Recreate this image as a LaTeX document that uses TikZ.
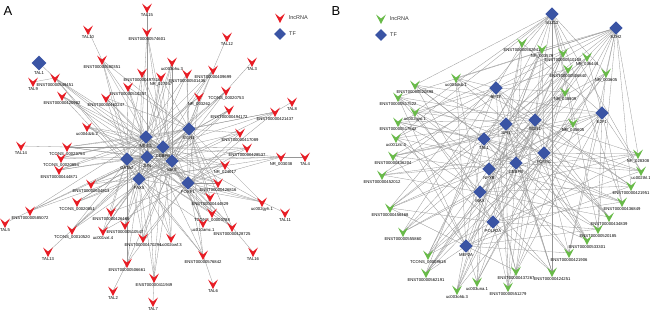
\documentclass[tikz,border=0pt]{standalone}
\usepackage{fontspec}
\setmainfont{Liberation Sans}
\usetikzlibrary{shapes.geometric,backgrounds}
\definecolor{lncred}{RGB}{232,28,36}
\definecolor{lncgreen}{RGB}{104,186,72}
\definecolor{tfblue}{RGB}{58,84,164}
\definecolor{edgegray}{RGB}{150,150,150}
\begin{document}
\begin{tikzpicture}[x=1pt,y=-1pt,line join=round,line cap=round,font=\fontsize{4.2}{4.5}\selectfont,
	lab/.style={inner sep=0.3pt,font=\fontsize{4.2}{4.5}\selectfont},
	leg/.style={anchor=west,inner sep=0pt,font=\fontsize{5.5}{6}\selectfont,text=black!80},
	lnc/.style={minimum size=10pt,inner sep=0pt,path picture={\fill[#1]
		([shift={(-5pt,4.5pt)}]path picture bounding box.center) -- ([shift={(0pt,0.5pt)}]path picture bounding box.center)
		-- ([shift={(5pt,4.5pt)}]path picture bounding box.center) -- ([shift={(0pt,-5pt)}]path picture bounding box.center) -- cycle;}},
	lncA/.style={lnc=lncred},
	lncB/.style={lnc=lncgreen},
	tf/.style={diamond,fill=tfblue,minimum size=13.5pt,inner sep=0pt},
	edge/.style={draw=edgegray,line width=0.3pt}]
	\useasboundingbox (0,0) rectangle (650,317);
	\node[anchor=west,font=\fontsize{13}{13}\selectfont] (pA) at (0,11) {A};
	\node[anchor=west,font=\fontsize{13}{13}\selectfont] (pB) at (328,11) {B};
	% legends
	\node[lncA] (legA1) at (280,18) {};
	\node[leg] (legA1t) at (289,18) {lncRNA};
	\node[tf,minimum size=12pt] (legA2) at (280,34) {};
	\node[leg] (legA2t) at (289,34) {TF};
	\node[lncB] (legB1) at (381,19) {};
	\node[leg] (legB1t) at (390,19) {lncRNA};
	\node[tf,minimum size=12pt] (legB2) at (381,35) {};
	\node[leg] (legB2t) at (390,35) {TF};
	% A: transcription factors
	\node[tf,label={[lab]below:MEIS1}] (ta1) at (146,137) {};
	\node[tf,label={[lab]below:CEBPB}] (ta2) at (163,147) {};
	\node[tf,label={[lab]below:GATA2}] (ta3) at (127,159) {};
	\node[tf,label={[lab]below:JUN}] (ta4) at (147,157) {};
	\node[tf,label={[lab]below:PAX5}] (ta5) at (139,179) {};
	\node[tf,label={[lab]below:EGR1}] (ta6) at (189,129) {};
	\node[tf,label={[lab]below:MAX}] (ta7) at (172,161) {};
	\node[tf,label={[lab]below:FOXP1}] (ta8) at (188,183) {};
	\node[tf,minimum size=15pt,label={[lab]below:TAL1}] (tal1) at (39,63) {};
	% A: lncRNAs
	\node[lncA,label={[lab]below:ENST00000574601}] (a1) at (147,32) {};
	\node[lncA,label={[lab]below:ENST00000580351}] (a2) at (102,60) {};
	\node[lncA,label={[lab]below:uc003ohu.3}] (a3) at (172,62) {};
	\node[lncA,label={[lab]below:ENST00000501436}] (a4) at (187,74) {};
	\node[lncA,label={[lab]below:ENST00000409699}] (a5) at (213,70) {};
	\node[lncA,label={[lab]below:ENST00000497316}] (a6) at (142,73) {};
	\node[lncA,label={[lab]below:NR\_027057}] (a7) at (161,77) {};
	\node[lncA,label={[lab]below:ENST00000549451}] (a8) at (55,78) {};
	\node[lncA,label={[lab]below:ENST00000510257}] (a9) at (128,87) {};
	\node[lncA,label={[lab]below:ENST00000420982}] (a10) at (62,96) {};
	\node[lncA,label={[lab]below:ENST00000462247}] (a11) at (106,98) {};
	\node[lncA,label={[lab]below:TCONS\_00020753}] (a12) at (226,91) {};
	\node[lncA,label={[lab]below:NR\_003262}] (a13) at (199,97) {};
	\node[lncA,label={[lab]below:ENST00000494172}] (a14) at (229,110) {};
	\node[lncA,label={[lab]below:ENST00000421437}] (a15) at (275,112) {};
	\node[lncA,label={[lab]below:uc004dzb.2}] (a16) at (87,127) {};
	\node[lncA,label={[lab]below:ENST00000417089}] (a17) at (240,133) {};
	\node[lncA,label={[lab]below:TCONS\_00029754}] (a18) at (67,147) {};
	\node[lncA,label={[lab]below:ENST00000428537}] (a19) at (247,148) {};
	\node[lncA,label={[lab]below:TCONS\_00020854}] (a20) at (61,158) {};
	\node[lncA,label={[lab]below:NR\_003038}] (a21) at (281,157) {};
	\node[lncA,label={[lab]below:ENST00000444871}] (a22) at (59,170) {};
	\node[lncA,label={[lab]below:NR\_024017}] (a23) at (225,165) {};
	\node[lncA,label={[lab]below:ENST00000426816}] (a24) at (218,183) {};
	\node[lncA,label={[lab]below:ENST00000504913}] (a25) at (91,184) {};
	\node[lncA,label={[lab]below:ENST00000444829}] (a26) at (210,197) {};
	\node[lncA,label={[lab]below:TCONS\_00020851}] (a27) at (77,202) {};
	\node[lncA,label={[lab]below:uc002gyh.1}] (a28) at (262,202) {};
	\node[lncA,label={[lab]below:ENST00000585072}] (a29) at (30,211) {};
	\node[lncA,label={[lab]below:ENST00000426469}] (a30) at (111,212) {};
	\node[lncA,label={[lab]below:TCONS\_00010520}] (a31) at (72,230) {};
	\node[lncA,label={[lab]below:uc001vxt.4}] (a32) at (103,231) {};
	\node[lncA,label={[lab]below:ENST00000510547}] (a33) at (125,225) {};
	\node[lncA,label={[lab]below:ENST00000470294}] (a34) at (143,238) {};
	\node[lncA,label={[lab]below:TCONS\_00003788}] (a35) at (212,213) {};
	\node[lncA,label={[lab]below:uc010amc.1}] (a36) at (203,223) {};
	\node[lncA,label={[lab]below:ENST00000428725}] (a37) at (232,227) {};
	\node[lncA,label={[lab]below:uc002owf.3}] (a38) at (171,238) {};
	\node[lncA,label={[lab]below:ENST00000506661}] (a39) at (127,263) {};
	\node[lncA,label={[lab]below:ENST00000411949}] (a40) at (154,278) {};
	\node[lncA,label={[lab]below:ENST00000576842}] (a41) at (203,255) {};
	% A: TAL nodes
	\node[lncA,label={[lab]below:TAL15}] (tal15) at (147,8) {};
	\node[lncA,label={[lab]below:TAL10}] (tal10) at (88,30) {};
	\node[lncA,label={[lab]below:TAL12}] (tal12) at (227,37) {};
	\node[lncA,label={[lab]below:TAL3}] (tal3) at (252,62) {};
	\node[lncA,label={[lab]below:TAL9}] (tal9) at (33,82) {};
	\node[lncA,label={[lab]below:TAL8}] (tal8) at (292,102) {};
	\node[lncA,label={[lab]below:TAL14}] (tal14) at (21,146) {};
	\node[lncA,label={[lab]below:TAL4}] (tal4) at (305,157) {};
	\node[lncA,label={[lab]below:TAL11}] (tal11) at (285,213) {};
	\node[lncA,label={[lab]below:TAL5}] (tal5) at (5,223) {};
	\node[lncA,label={[lab]below:TAL13}] (tal13) at (48,252) {};
	\node[lncA,label={[lab]below:TAL16}] (tal16) at (253,252) {};
	\node[lncA,label={[lab]below:TAL2}] (tal2) at (113,291) {};
	\node[lncA,label={[lab]below:TAL7}] (tal7) at (153,302) {};
	\node[lncA,label={[lab]below:TAL6}] (tal6) at (213,284) {};
	% B: transcription factors
	\node[tf,label={[lab]below:SUZ12}] (tb1) at (552,14) {};
	\node[tf,label={[lab]below:EZH2}] (tb2) at (616,28) {};
	\node[tf,label={[lab]below:BPTF}] (tb3) at (496,88) {};
	\node[tf,label={[lab]below:E2F1}] (tb4) at (602,113) {};
	\node[tf,label={[lab]below:EGR1}] (tb5) at (535,120) {};
	\node[tf,label={[lab]below:SPI1}] (tb6) at (506,124) {};
	\node[tf,label={[lab]below:TAL1}] (tb7) at (484,139) {};
	\node[tf,label={[lab]below:FOXM1}] (tb8) at (544,153) {};
	\node[tf,label={[lab]below:CEBPB}] (tb9) at (516,163) {};
	\node[tf,label={[lab]below:NFYB}] (tb10) at (489,169) {};
	\node[tf,label={[lab]below:MAX}] (tb11) at (480,192) {};
	\node[tf,label={[lab]below:POLR2A}] (tb12) at (493,222) {};
	\node[tf,label={[lab]below:MEF2A}] (tb13) at (466,246) {};
	% B: lncRNAs
	\node[lncB,label={[lab]below:ENST00000502941}] (b1) at (522,43) {};
	\node[lncB,label={[lab]below:NR\_003579}] (b2) at (542,49) {};
	\node[lncB,label={[lab]below:ENST00000510108}] (b3) at (563,53) {};
	\node[lncB,label={[lab]below:NR\_036444}] (b4) at (587,57) {};
	\node[lncB,label={[lab]below:ENST00000506840}] (b5) at (568,69) {};
	\node[lncB,label={[lab]below:NR\_003605}] (b6) at (606,73) {};
	\node[lncB,label={[lab]below:NR\_038809}] (b7) at (565,92) {};
	\node[lncB,label={[lab]below:NR\_045605}] (b8) at (573,123) {};
	\node[lncB,label={[lab]below:uc004dsb.1}] (b9) at (456,78) {};
	\node[lncB,label={[lab]below:ENST00000520898}] (b10) at (415,85) {};
	\node[lncB,label={[lab]below:ENST00000517522}] (b11) at (398,97) {};
	\node[lncB,label={[lab]below:uc002gyo.1}] (b12) at (415,112) {};
	\node[lncB,label={[lab]below:ENST00000517642}] (b13) at (398,122) {};
	\node[lncB,label={[lab]below:uc001zlc.3}] (b14) at (396,138) {};
	\node[lncB,label={[lab]below:ENST00000436204}] (b15) at (393,156) {};
	\node[lncB,label={[lab]below:ENST00000452012}] (b16) at (382,175) {};
	\node[lncB,label={[lab]below:ENST00000456468}] (b17) at (390,208) {};
	\node[lncB,label={[lab]below:ENST00000555860}] (b18) at (403,232) {};
	\node[lncB,label={[lab]below:TCONS\_00009618}] (b19) at (428,255) {};
	\node[lncB,label={[lab]below:ENST00000562191}] (b20) at (426,273) {};
	\node[lncB,label={[lab]below:uc003ohb.3}] (b21) at (457,290) {};
	\node[lncB,label={[lab]below:uc003una.1}] (b22) at (477,282) {};
	\node[lncB,label={[lab]below:ENST00000551279}] (b23) at (508,287) {};
	\node[lncB,label={[lab]below:ENST00000437267}] (b24) at (516,271) {};
	\node[lncB,label={[lab]below:ENST00000424251}] (b25) at (552,272) {};
	\node[lncB,label={[lab]below:ENST00000421906}] (b26) at (569,253) {};
	\node[lncB,label={[lab]below:ENST00000533301}] (b27) at (587,240) {};
	\node[lncB,label={[lab]below:ENST00000520185}] (b28) at (598,229) {};
	\node[lncB,label={[lab]below:ENST00000434839}] (b29) at (609,217) {};
	\node[lncB,label={[lab]below:ENST00000436849}] (b30) at (622,202) {};
	\node[lncB,label={[lab]below:ENST00000421951}] (b31) at (631,186) {};
	\node[lncB,label={[lab]below:uc002thl.1}] (b32) at (641,171) {};
	\node[lncB,label={[lab]below:NR\_028308}] (b33) at (638,154) {};
	% connectors
	\begin{scope}[on background layer]
		\foreach \i in {1,...,41}{
			\foreach \j in {1,...,8}{
				\pgfmathtruncatemacro\k{mod(\i*7+\j*5,13)}
				\ifnum\k<7 \draw[edge] (ta\j.center) -- (a\i.center); \fi
			}
		}
		\foreach \t/\l in {tal15/a1,tal10/a2,tal12/a5,tal3/a12,tal8/a15,tal4/a21,tal11/a28,tal16/a37,
			tal6/a41,tal7/a40,tal2/a39,tal13/a31,tal5/a29,tal14/a18,tal9/a8,tal1/a8}
			\draw[edge] (\t.center) -- (\l.center);
		\foreach \i in {1,...,33}{
			\foreach \j in {1,...,13}{
				\pgfmathtruncatemacro\k{mod(\i*5+\j*7,11)}
				\ifnum\k<5 \draw[edge] (tb\j.center) -- (b\i.center); \fi
			}
		}
	\end{scope}
\end{tikzpicture}
\end{document}
